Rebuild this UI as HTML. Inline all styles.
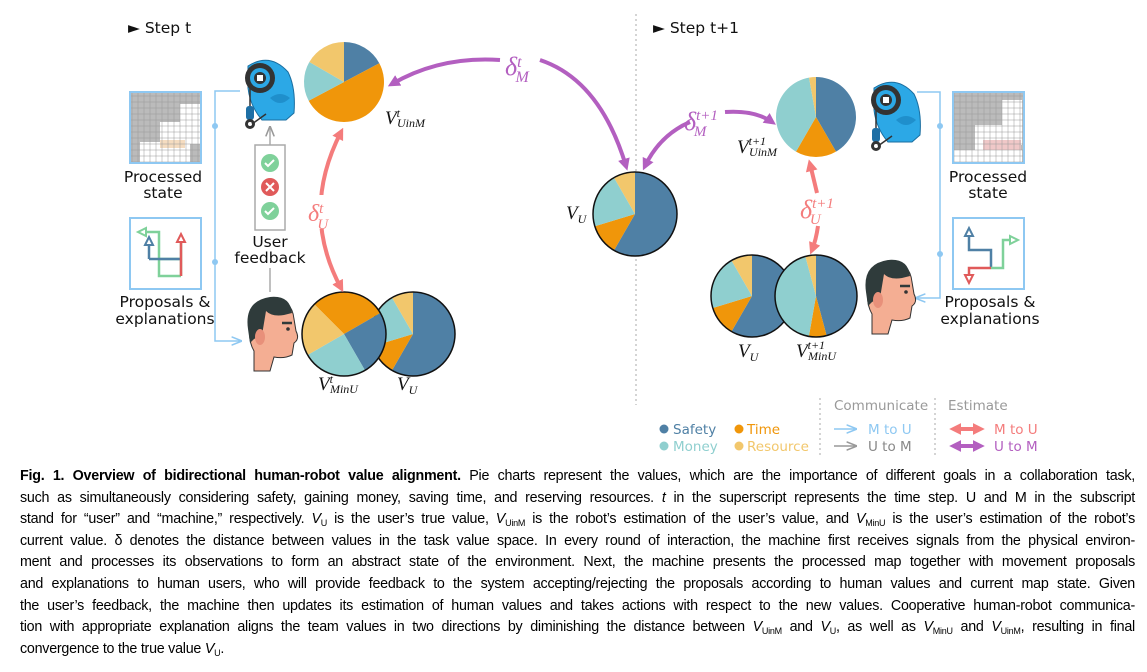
<!DOCTYPE html>
<html><head><meta charset="utf-8">
<style>
body{margin:0;width:1147px;height:672px;background:#fff;overflow:hidden;position:relative;font-family:"Liberation Sans",sans-serif}
svg{position:absolute;left:0;top:0}
.cap{position:absolute;left:20px;top:466px;width:1115px;font-size:14.3px;line-height:21.6px;color:#000;letter-spacing:-0.25px}
.cap div{white-space:nowrap;text-align:justify;text-align-last:justify}
.cap div.last{text-align-last:left}
sub{font-size:9px;vertical-align:-3px;line-height:0}
</style></head><body>
<svg id="s" width="1147" height="460" viewBox="0 0 1147 460" font-family="DejaVu Sans, Liberation Sans, sans-serif">
<defs>
<pattern id="grid" width="6" height="6" patternUnits="userSpaceOnUse"><rect width="6" height="6" fill="none" stroke="#999" stroke-width="0.5"/></pattern>
<marker id="ap" viewBox="0 0 10 10" refX="6" refY="5" markerWidth="3" markerHeight="3" orient="auto-start-reverse"><path d="M0,0L10,5L0,10z" fill="#b35fc0"/></marker>
<marker id="ar" viewBox="0 0 10 10" refX="6" refY="5" markerWidth="3" markerHeight="3" orient="auto-start-reverse"><path d="M0,0L10,5L0,10z" fill="#f47c7c"/></marker>
<marker id="ab" viewBox="0 0 10 10" refX="8" refY="5" markerWidth="7" markerHeight="7" orient="auto"><path d="M0,1L10,5L0,9" fill="none" stroke="#8ec8f2" stroke-width="1.5"/></marker>
<marker id="ag" viewBox="0 0 10 10" refX="8" refY="5" markerWidth="7" markerHeight="7" orient="auto"><path d="M0,1L10,5L0,9" fill="none" stroke="#999" stroke-width="1.5"/></marker>
<g id="robot">
<path d="M8,8 Q30,-6 48,14 Q56,30 54,55 L46,62 L22,62 Q10,48 8,30z" fill="#2ca8e6" stroke="#1a6ea0" stroke-width="1"/>
<circle cx="20" cy="20" r="15" fill="#333"/><circle cx="20" cy="20" r="10" fill="#2ca8e6"/><circle cx="20" cy="20" r="6" fill="#333"/><rect x="17" y="17" width="6" height="6" fill="#fff"/>
<path d="M30,40 Q40,32 50,40 Q40,50 30,40z" fill="#1f8fcc"/>
<rect x="6" y="48" width="8" height="14" rx="3" fill="#1e6fa5"/><circle cx="10" cy="66" r="5" fill="#333"/><circle cx="10" cy="66" r="2" fill="#fff"/>
<line x1="10" y1="30" x2="10" y2="48" stroke="#333" stroke-width="1.5"/><line x1="12" y1="66" x2="26" y2="56" stroke="#333" stroke-width="1.5"/>
</g>
<g id="head">
<path d="M6,30 Q4,6 28,4 Q48,4 50,24 L52,36 Q56,44 50,48 L48,60 Q40,64 30,62 L26,76 L10,76 L10,56 Q4,46 6,30z" fill="#f4ae93" stroke="#333" stroke-width="1"/>
<path d="M4,34 Q0,6 26,2 Q46,0 48,18 L40,20 Q28,22 22,16 L18,40 L10,44 L6,48z" fill="#2f3b3b"/>
<ellipse cx="16" cy="42" rx="5" ry="8" fill="#e8907a"/>
<path d="M38,28 L48,28" stroke="#2f3b3b" stroke-width="2.5"/><circle cx="44" cy="34" r="1.8" fill="#333"/>
</g>
</defs>

<text x="128" y="33" font-size="15.5" fill="#111">► Step t</text>
<text x="653" y="33" font-size="15.5" fill="#111">► Step t+1</text>
<line x1="636" y1="14" x2="636" y2="405" stroke="#aaa" stroke-dasharray="2,3"/>

<rect x="130" y="92" width="71" height="71" fill="#bbb" stroke="#8ec8f2" stroke-width="2"/>
<path d="M180,104h20v40h-20zM140,142h50v20h-50zM160,122h25v22h-25z" fill="#fff"/>
<rect x="160" y="140" width="25" height="8" fill="#f5dcc0"/>
<rect x="130" y="92" width="71" height="71" fill="url(#grid)"/>
<rect x="130" y="92" width="71" height="71" fill="none" stroke="#8ec8f2" stroke-width="2"/>
<text font-size="15.5" fill="#111" text-anchor="middle"><tspan x="163" y="182">Processed</tspan><tspan x="163" y="198">state</tspan></text>
<rect x="130" y="218" width="71" height="71" fill="none" stroke="#8ec8f2" stroke-width="2"/>
<path d="M181,276V240 M160,259h21 M181,276h-22V232h-14" fill="none" stroke-width="2.5" stroke="#7fd19a"/>
<path d="M149,259h32" stroke="#4f80a5" stroke-width="2.5"/><path d="M149,259v-14" stroke="#4f80a5" stroke-width="2.5"/>
<path d="M181,276V240" stroke="#e05a5a" stroke-width="2.5"/>
<path d="M177,242l4,-8l4,8z" fill="#fff" stroke="#e05a5a" stroke-width="2"/>
<path d="M145,245l4,-8l4,8z" fill="#fff" stroke="#4f80a5" stroke-width="2"/>
<path d="M146,228l-8,4l8,4z" fill="#fff" stroke="#7fd19a" stroke-width="2"/>
<text font-size="15.5" fill="#111" text-anchor="middle"><tspan x="165" y="307">Proposals &amp;</tspan><tspan x="165" y="324">explanations</tspan></text>

<path d="M240,91H215V341H240" fill="none" stroke="#8ec8f2" stroke-width="1.5" marker-end="url(#ab)"/>
<circle cx="215" cy="126" r="3" fill="#8ec8f2"/><circle cx="215" cy="262" r="3" fill="#8ec8f2"/>

<use href="#robot" x="240" y="58"/>
<use href="#head" x="244" y="295"/>

<rect x="255" y="145" width="30" height="85" fill="#fff" stroke="#aaa" stroke-width="1.5"/>
<line x1="270" y1="145" x2="270" y2="128" stroke="#aaa" stroke-width="1.5" marker-end="url(#ag)"/>
<line x1="270" y1="268" x2="270" y2="292" stroke="#aaa" stroke-width="1.5"/>
<circle cx="270" cy="163" r="9" fill="#7fd19a"/><path d="M265,163l3,3l6,-6" stroke="#fff" stroke-width="2" fill="none"/>
<circle cx="270" cy="187" r="9" fill="#e05a5a"/><path d="M266,183l8,8M274,183l-8,8" stroke="#fff" stroke-width="2"/>
<circle cx="270" cy="211" r="9" fill="#7fd19a"/><path d="M265,211l3,3l6,-6" stroke="#fff" stroke-width="2" fill="none"/>
<text font-size="15.5" fill="#111" text-anchor="middle"><tspan x="270" y="247">User</tspan><tspan x="270" y="263">feedback</tspan></text>

<path d="M917,92H940V298H917" fill="none" stroke="#8ec8f2" stroke-width="1.5" marker-end="url(#ab)"/>
<circle cx="940" cy="126" r="3" fill="#8ec8f2"/><circle cx="940" cy="254" r="3" fill="#8ec8f2"/>
<use href="#robot" x="866" y="80"/>
<use href="#head" x="862" y="258"/>

<rect x="953" y="92" width="71" height="71" fill="#bbb"/>
<path d="M1002,100h20v45h-20zM953,150h69v12h-69zM975,125h28v28h-28z" fill="#fff"/>
<rect x="983" y="140" width="38" height="10" fill="#f0c8c8"/>
<rect x="953" y="92" width="71" height="71" fill="url(#grid)"/>
<rect x="953" y="92" width="71" height="71" fill="none" stroke="#8ec8f2" stroke-width="2"/>
<text font-size="15.5" fill="#111" text-anchor="middle"><tspan x="988" y="182">Processed</tspan><tspan x="988" y="198">state</tspan></text>
<rect x="953" y="218" width="71" height="71" fill="none" stroke="#8ec8f2" stroke-width="2"/>
<path d="M969,232v18h22v18" fill="none" stroke="#4f80a5" stroke-width="2.5"/>
<path d="M991,268h-22v8" fill="none" stroke="#e05a5a" stroke-width="2.5"/>
<path d="M991,268h12v-28h8" fill="none" stroke="#7fd19a" stroke-width="2.5"/>
<path d="M965,236l4,-8l4,8z" fill="#fff" stroke="#4f80a5" stroke-width="2"/>
<path d="M965,275l4,8l4,-8z" fill="#fff" stroke="#e05a5a" stroke-width="2"/>
<path d="M1010,236l8,4l-8,4z" fill="#fff" stroke="#7fd19a" stroke-width="2"/>
<text font-size="15.5" fill="#111" text-anchor="middle"><tspan x="990" y="307">Proposals &amp;</tspan><tspan x="990" y="324">explanations</tspan></text>

<g id="pies"></g>

<path d="M341,132 Q300,212 341,288" fill="none" stroke="#f47c7c" stroke-width="4" marker-start="url(#ar)" marker-end="url(#ar)"/>
<rect x="305" y="195" width="32" height="34" fill="#fff"/>
<path d="M392,84 Q440,56 500,60" fill="none" stroke="#b35fc0" stroke-width="4" marker-start="url(#ap)"/>
<path d="M540,60 Q600,80 626,166" fill="none" stroke="#b35fc0" stroke-width="4" marker-end="url(#ap)"/>
<path d="M645,166 Q660,135 690,122" fill="none" stroke="#b35fc0" stroke-width="4" marker-start="url(#ap)"/>
<path d="M725,112 Q755,110 772,122" fill="none" stroke="#b35fc0" stroke-width="4" marker-end="url(#ap)"/>
<path d="M817,193 Q812,172 810,164" fill="none" stroke="#f47c7c" stroke-width="4" marker-end="url(#ar)"/>
<path d="M818,226 Q816,240 812,250" fill="none" stroke="#f47c7c" stroke-width="4" marker-end="url(#ar)"/>

<g font-family="Liberation Serif, serif" font-style="italic">
<text x="308" y="221" font-size="24" fill="#f47c7c">δ<tspan font-size="15" dy="-8">t</tspan><tspan font-size="15" dx="-6" dy="16">U</tspan></text>
<text x="505" y="75" font-size="26" fill="#b35fc0">δ<tspan font-size="16" dy="-8">t</tspan><tspan font-size="16" dx="-6" dy="15">M</tspan></text>
<text x="684" y="130" font-size="26" fill="#b35fc0">δ<tspan font-size="15" dy="-10">t+1</tspan><tspan font-size="15" dx="-24" dy="16">M</tspan></text>
<text x="800" y="218" font-size="26" fill="#f47c7c">δ<tspan font-size="15" dy="-10">t+1</tspan><tspan font-size="15" dx="-24" dy="16">U</tspan></text>
<g fill="#111">
<text x="385" y="124" font-size="19">V<tspan font-size="12" dy="-7">t</tspan><tspan font-size="12" dx="-3" dy="10">UinM</tspan></text>
<text x="566" y="219" font-size="19">V<tspan font-size="12" dy="4">U</tspan></text>
<text x="318" y="390" font-size="19">V<tspan font-size="12" dy="-7">t</tspan><tspan font-size="12" dx="-3" dy="10">MinU</tspan></text>
<text x="397" y="390" font-size="19">V<tspan font-size="12" dy="4">U</tspan></text>
<text x="737" y="153" font-size="19">V<tspan font-size="12" dy="-8">t+1</tspan><tspan font-size="12" dx="-17" dy="11">UinM</tspan></text>
<text x="738" y="357" font-size="19">V<tspan font-size="12" dy="4">U</tspan></text>
<text x="796" y="357" font-size="19">V<tspan font-size="12" dy="-8">t+1</tspan><tspan font-size="12" dx="-17" dy="11">MinU</tspan></text>
</g></g>

<g font-size="13.5">
<circle cx="664" cy="429" r="4.5" fill="#4f80a5"/><text x="673" y="434" fill="#4f80a5">Safety</text>
<circle cx="664" cy="446" r="4.5" fill="#8fcfcf"/><text x="673" y="451" fill="#8fcfcf">Money</text>
<circle cx="739" cy="429" r="4.5" fill="#f0960a"/><text x="747" y="434" fill="#f0960a">Time</text>
<circle cx="739" cy="446" r="4.5" fill="#f2c76c"/><text x="747" y="451" fill="#f2c76c">Resource</text>
<line x1="820" y1="398" x2="820" y2="455" stroke="#aaa" stroke-dasharray="2,3"/>
<line x1="935" y1="398" x2="935" y2="455" stroke="#aaa" stroke-dasharray="2,3"/>
<text x="834" y="410" fill="#999">Communicate</text>
<text x="948" y="410" fill="#999">Estimate</text>
<line x1="834" y1="429" x2="855" y2="429" stroke="#8ec8f2" stroke-width="1.5" marker-end="url(#ab)"/><text x="868" y="434" fill="#8ec8f2">M to U</text>
<line x1="834" y1="446" x2="855" y2="446" stroke="#999" stroke-width="1.5" marker-end="url(#ag)"/><text x="868" y="451" fill="#888">U to M</text>
<line x1="954" y1="429" x2="980" y2="429" stroke="#f47c7c" stroke-width="4" marker-start="url(#ar)" marker-end="url(#ar)"/><text x="994" y="434" fill="#f47c7c">M to U</text>
<line x1="954" y1="446" x2="980" y2="446" stroke="#b35fc0" stroke-width="4" marker-start="url(#ap)" marker-end="url(#ap)"/><text x="994" y="451" fill="#b35fc0">U to M</text>
</g>
</svg>

<div class="cap">
<div><b>Fig. 1. Overview of bidirectional human-robot value alignment.</b> Pie charts represent the values, which are the importance of different goals in a collaboration task,</div>
<div>such as simultaneously considering safety, gaining money, saving time, and reserving resources. <i>t</i> in the superscript represents the time step. U and M in the subscript</div>
<div>stand for “user” and “machine,” respectively. <i>V</i><sub>U</sub> is the user’s true value, <i>V</i><sub>UinM</sub> is the robot’s estimation of the user’s value, and <i>V</i><sub>MinU</sub> is the user’s estimation of the robot’s</div>
<div>current value. δ denotes the distance between values in the task value space. In every round of interaction, the machine first receives signals from the physical environ-</div>
<div>ment and processes its observations to form an abstract state of the environment. Next, the machine presents the processed map together with movement proposals</div>
<div>and explanations to human users, who will provide feedback to the system accepting/rejecting the proposals according to human values and current map state. Given</div>
<div>the user’s feedback, the machine then updates its estimation of human values and takes actions with respect to the new values. Cooperative human-robot communica-</div>
<div>tion with appropriate explanation aligns the team values in two directions by diminishing the distance between <i>V</i><sub>UinM</sub> and <i>V</i><sub>U</sub>, as well as <i>V</i><sub>MinU</sub> and <i>V</i><sub>UinM</sub>, resulting in final</div>
<div class="last">convergence to the true value <i>V</i><sub>U</sub>.</div>
</div>

<script>
var C={s:"#4f80a5",m:"#8fcfcf",t:"#f0960a",r:"#f2c76c"};
function pie(cx,cy,r,sl,stroke){
 var g=document.getElementById('pies'),h="";
 sl.forEach(function(a){
  var a0=(a[1]-90)*Math.PI/180,a1=(a[2]-90)*Math.PI/180,large=(a[2]-a[1])>180?1:0;
  h+='<path d="M'+cx+','+cy+'L'+(cx+r*Math.cos(a0))+','+(cy+r*Math.sin(a0))+'A'+r+','+r+' 0 '+large+' 1 '+(cx+r*Math.cos(a1))+','+(cy+r*Math.sin(a1))+'z" fill="'+C[a[0]]+'"/>';
 });
 if(stroke)h+='<circle cx="'+cx+'" cy="'+cy+'" r="'+r+'" fill="none" stroke="#111" stroke-width="1.5"/>';
 g.insertAdjacentHTML('beforeend',h);
}
var VU=[["s",0,210],["t",210,253],["m",253,330],["r",330,360]];
pie(344,82,40,[["s",0,62],["t",62,242],["m",242,300],["r",300,360]]);
pie(635,214,42,VU,1);
pie(413,334,42,VU,1);
pie(344,334,42,[["t",-45,60],["s",60,150],["m",150,240],["r",240,315]],1);
pie(816,117,40,[["s",0,150],["t",150,210],["m",210,350],["r",350,360]]);
pie(752,296,41,VU,1);
pie(816,296,41,[["s",0,165],["t",165,190],["m",190,345],["r",345,360]],1);
</script>
</body></html>
